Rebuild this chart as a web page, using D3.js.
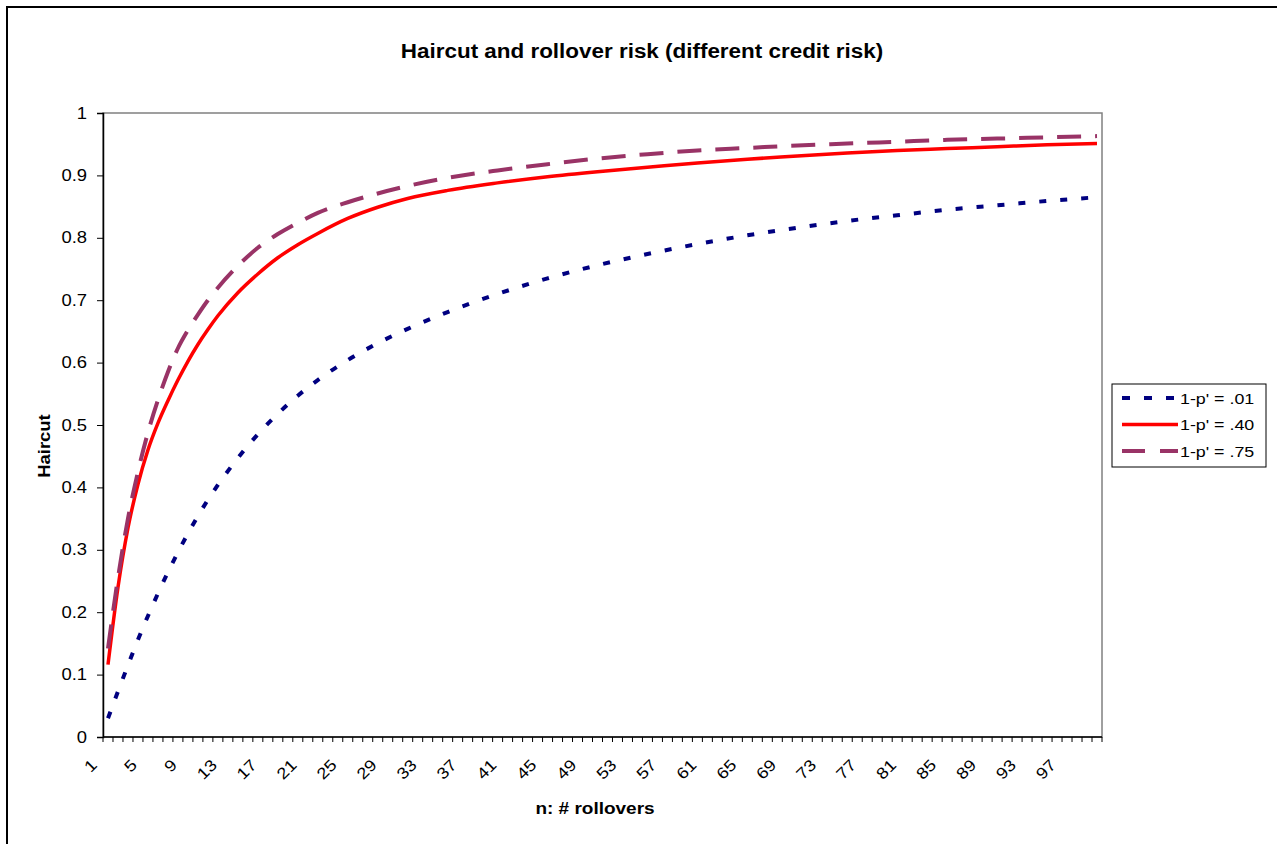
<!DOCTYPE html>
<html>
<head>
<meta charset="utf-8">
<script src="https://cdn.jsdelivr.net/npm/d3@7"></script>
<style>
  body { margin: 0; background: #fff; }
  svg { display: block; font-family: "Liberation Sans", Arial, sans-serif; }
</style>
</head>
<body>
<svg id="chart" width="1277" height="844"></svg>
<script>
// n = 1..100 rollovers (category axis)
const categories = d3.range(1, 101);
const xTickLabels = [1, 5, 9, 13, 17, 21, 25, 29, 33, 37, 41, 45, 49, 53, 57, 61, 65, 69, 73, 77, 81, 85, 89, 93, 97];
const yTicks = [0, 0.1, 0.2, 0.3, 0.4, 0.5, 0.6, 0.7, 0.8, 0.9, 1];

// points
const readAt = [1, 2, 3, 4, 5, 6, 7, 8, 9, 10, 11, 12, 14, 16, 18, 20, 22, 25, 28, 31, 35, 40, 45, 50, 55, 60, 65, 70, 75, 80, 85, 90, 95, 100];
const haircut01 = [0.030, 0.073, 0.115, 0.156, 0.194, 0.230, 0.264, 0.296, 0.326, 0.354, 0.380, 0.404, 0.447, 0.485, 0.518, 0.547, 0.572, 0.604, 0.631, 0.654, 0.681, 0.710, 0.735, 0.756, 0.774, 0.790, 0.804, 0.816, 0.827, 0.836, 0.845, 0.852, 0.859, 0.865];
const haircut40 = [0.116, 0.240, 0.335, 0.405, 0.460, 0.503, 0.539, 0.572, 0.602, 0.629, 0.653, 0.675, 0.712, 0.742, 0.768, 0.789, 0.807, 0.831, 0.849, 0.863, 0.876, 0.888, 0.898, 0.906, 0.913, 0.920, 0.926, 0.931, 0.936, 0.940, 0.943, 0.946, 0.949, 0.951];
const haircut75 = [0.142, 0.255, 0.350, 0.425, 0.488, 0.540, 0.585, 0.623, 0.652, 0.677, 0.700, 0.720, 0.755, 0.784, 0.806, 0.824, 0.840, 0.857, 0.871, 0.883, 0.896, 0.908, 0.918, 0.927, 0.934, 0.940, 0.944, 0.948, 0.951, 0.954, 0.957, 0.959, 0.961, 0.963];
const seriesNames = ["1-p' = .01", "1-p' = .40", "1-p' = .75"];

const series = [
  { name: seriesNames[0], values: haircut01, color: "#000080", width: 4, dash: "7,14", legendDash: "8,14" },
  { name: seriesNames[1], values: haircut40, color: "#FF0000", width: 3.5, dash: null, legendDash: null },
  { name: seriesNames[2], values: haircut75, color: "#993366", width: 4, dash: "24,14", legendDash: "23,15" },
];

const svg = d3.select("#chart");
const plotLeft = 103, plotRight = 1102, plotTop = 113, plotBottom = 737;
const stretch = 1.15; // text in the original is a bit wider than Arial

// outer chart frame (runs off the picture on right and bottom)
svg.append("rect")
  .attr("x", 7).attr("y", 7)
  .attr("width", 1290).attr("height", 860)
  .attr("fill", "#fff").attr("stroke", "#000").attr("stroke-width", 2);

const x = d3.scaleBand().domain(categories).range([plotLeft, plotRight]);
const y = d3.scaleLinear().domain([0, 1]).range([plotBottom, plotTop]);
const cx = (n) => x(n) + x.bandwidth() / 2;

// plot area
svg.append("rect")
  .attr("x", plotLeft).attr("y", plotTop)
  .attr("width", plotRight - plotLeft).attr("height", plotBottom - plotTop)
  .attr("fill", "#fff").attr("stroke", "#808080").attr("stroke-width", 1.5);

// y axis
const yAxis = svg.append("g")
  .attr("transform", `translate(${plotLeft},0)`)
  .call(d3.axisLeft(y).tickValues(yTicks).tickSize(6).tickPadding(10).tickFormat(d3.format("~g")));
yAxis.select(".domain").attr("stroke", "#000").attr("stroke-width", 1.5);
yAxis.selectAll(".tick line").attr("stroke", "#000");
yAxis.selectAll("text").attr("font-size", 16).attr("fill", "#000")
  .attr("font-family", "Liberation Sans, Arial, sans-serif");

// x axis: ticks on category boundaries
const xb = svg.append("g");
xb.append("line")
  .attr("x1", plotLeft).attr("x2", plotRight).attr("y1", plotBottom).attr("y2", plotBottom)
  .attr("stroke", "#000").attr("stroke-width", 1.5);
xb.selectAll("line.tk")
  .data(categories.concat([null]))
  .join("line")
  .attr("class", "tk")
  .attr("x1", (d) => (d === null ? plotRight : x(d)))
  .attr("x2", (d) => (d === null ? plotRight : x(d)))
  .attr("y1", plotBottom).attr("y2", plotBottom + 5)
  .attr("stroke", "#000").attr("stroke-width", 1);
xb.selectAll("text")
  .data(xTickLabels)
  .join("text")
  .attr("transform", (d) => `translate(${cx(d) - 10},${plotBottom + 29}) rotate(-45)`)
  .attr("text-anchor", "end")
  .attr("font-size", 16)
  .text((d) => d);

// lines
const line = d3.line()
  .x((d) => cx(d.n))
  .y((d) => y(d.v))
  .curve(d3.curveMonotoneX);

series.forEach((s) => {
  svg.append("path")
    .datum(readAt.map((n, i) => ({ n, v: s.values[i] })))
    .attr("d", line)
    .attr("fill", "none")
    .attr("stroke", s.color)
    .attr("stroke-width", s.width)
    .attr("stroke-dasharray", s.dash)
    .attr("stroke-linecap", "butt");
});

// titles
svg.append("text")
  .attr("x", 642).attr("y", 58)
  .attr("text-anchor", "middle")
  .attr("font-size", 19.5).attr("font-weight", "bold")
  .text("Haircut and rollover risk (different credit risk)");

svg.append("text")
  .attr("x", 595).attr("y", 814)
  .attr("text-anchor", "middle")
  .attr("font-size", 16.5).attr("font-weight", "bold")
  .text("n: # rollovers");

svg.append("text")
  .attr("transform", "translate(50,446) rotate(-90)")
  .attr("text-anchor", "middle")
  .attr("font-size", 16).attr("font-weight", "bold")
  .text("Haircut");

// legend
const legend = svg.append("g").attr("transform", "translate(1112,384)");
legend.append("rect")
  .attr("width", 154).attr("height", 83)
  .attr("fill", "#fff").attr("stroke", "#000").attr("stroke-width", 1);
const item = legend.selectAll("g.item")
  .data(series)
  .join("g")
  .attr("class", "item")
  .attr("transform", (d, i) => `translate(0,${14 + i * 26.5})`);
item.append("line")
  .attr("x1", 10).attr("x2", 66)
  .attr("stroke", (d) => d.color)
  .attr("stroke-width", (d) => d.width)
  .attr("stroke-dasharray", (d) => d.legendDash);
item.append("text")
  .attr("x", 68).attr("y", 5.5)
  .attr("font-size", 15.5)
  .text((d) => d.name);

// widen all text a little
svg.selectAll("text").each(function () {
  const w = this.getComputedTextLength();
  this.setAttribute("textLength", w * stretch);
  this.setAttribute("lengthAdjust", "spacingAndGlyphs");
});
</script>
</body>
</html>
